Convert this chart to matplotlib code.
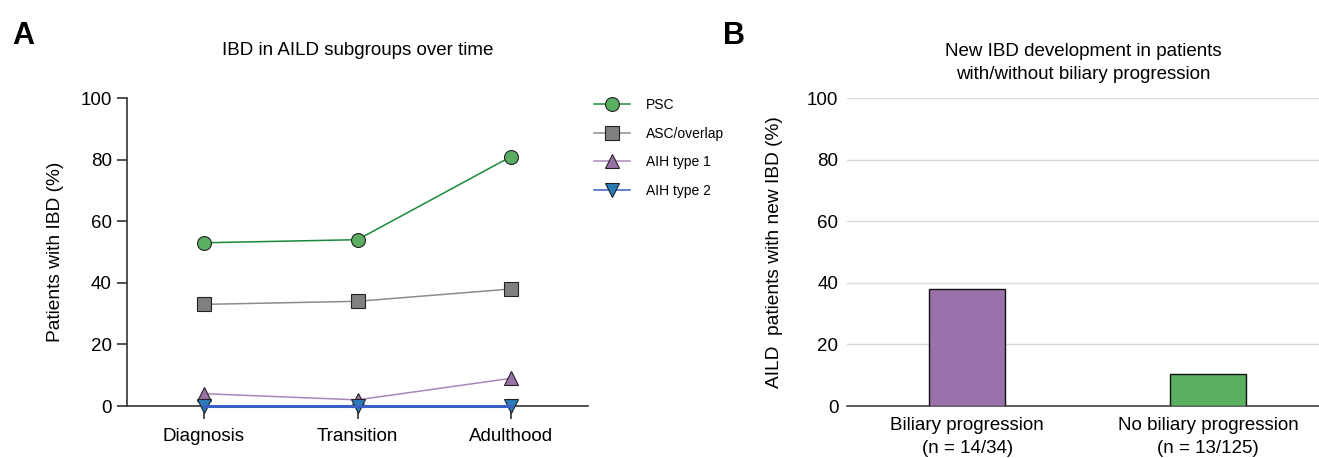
import matplotlib.pyplot as plt
import numpy as np

plt.rcParams['font.family'] = ['Liberation Sans', 'DejaVu Sans']

# Panel A data
stages = ['Diagnosis', 'Transition', 'Adulthood']
psc = [53, 54, 81]
asc_overlap = [33, 34, 38]
aih1 = [4, 2, 9]
aih2 = [0, 0, 0]

# Panel B data
groups = ['Biliary progression\n(n = 14/34)', 'No biliary progression\n(n = 13/125)']
new_ibd = [38, 10.4]

fig = plt.figure(figsize=(13.19, 4.58), dpi=100)

# ---- Panel A
ax1 = fig.add_axes([0.0963, 0.1135, 0.3495, 0.6725])
x = np.arange(len(stages))
series = [
    ('PSC', psc, 'o', '#5aae61', '#1a8a3a', 10),
    ('ASC/overlap', asc_overlap, 's', '#808080', '#8c8c8c', 10),
    ('AIH type 1', aih1, '^', '#9a72aa', '#a888bb', 10),
    ('AIH type 2', aih2, 'v', '#2b7bb9', '#3a5fc4', 10),
]
for name, vals, mk, fc, lc, ms in series:
    ax1.plot(x, vals, marker=mk, color=lc, markerfacecolor=fc,
             markeredgecolor='#222222', markeredgewidth=0.8, markersize=ms,
             linewidth=1.1, label=name, clip_on=False, zorder=3)
ax1.plot(x, aih2, color='#3a5fc4', linewidth=2.2, zorder=3, clip_on=False)

ax1.set_xlim(-0.5, 2.5)
ax1.set_ylim(0, 100)
ax1.set_yticks([0, 20, 40, 60, 80, 100])
ax1.set_xticks(x)
ax1.set_xticklabels(stages)
ax1.spines['top'].set_visible(False)
ax1.spines['right'].set_visible(False)
ax1.spines['left'].set_color('#333333')
ax1.spines['bottom'].set_color('#333333')
ax1.spines['left'].set_linewidth(1.2)
ax1.spines['bottom'].set_linewidth(1.2)
ax1.tick_params(axis='y', direction='out', length=7, width=1.2, color='#333333',
                labelsize=13.5, pad=4)
ax1.tick_params(axis='x', direction='out', length=9, width=1.2, color='#333333',
                labelsize=13.5, pad=7)
ax1.set_ylabel('Patients with IBD (%)', fontsize=13.8, labelpad=12)
ax1.set_title('IBD in AILD subgroups over time', fontsize=13.5, pad=31)

leg = ax1.legend(loc='upper left', bbox_to_anchor=(0.985, 1.04), frameon=False,
                 fontsize=10, handlelength=2.6, handletextpad=1.2,
                 labelspacing=1.05, markerscale=1.0)

fig.text(0.009, 0.905, 'A', fontsize=22, fontweight='bold')

# ---- Panel B
ax2 = fig.add_axes([0.642, 0.1135, 0.358, 0.6725])
xb = np.arange(len(groups))
ax2.bar(xb, new_ibd, width=0.315, color=['#9a71ab', '#5aaf61'],
        edgecolor='#111111', linewidth=1.0, zorder=3)
ax2.set_xlim(-0.5, 1.46)
ax2.set_ylim(0, 100)
ax2.set_yticks([0, 20, 40, 60, 80, 100])
ax2.set_xticks(xb)
ax2.set_xticklabels(groups, linespacing=1.45)
ax2.grid(axis='y', color='#d9d9d9', linewidth=1.0, zorder=0)
for s in ['top', 'right', 'left']:
    ax2.spines[s].set_visible(False)
ax2.spines['bottom'].set_color('#444444')
ax2.spines['bottom'].set_linewidth(1.2)
ax2.tick_params(axis='y', length=0, labelsize=13.5, pad=6)
ax2.tick_params(axis='x', length=0, labelsize=13.5, pad=8)
ax2.set_ylabel('AILD  patients with new IBD (%)', fontsize=13.8, labelpad=17)
ax2.set_title('New IBD development in patients\nwith/without biliary progression',
              fontsize=13.5, pad=14, linespacing=1.45)

fig.text(0.548, 0.905, 'B', fontsize=22, fontweight='bold')

fig.savefig('out.png', dpi=100)
